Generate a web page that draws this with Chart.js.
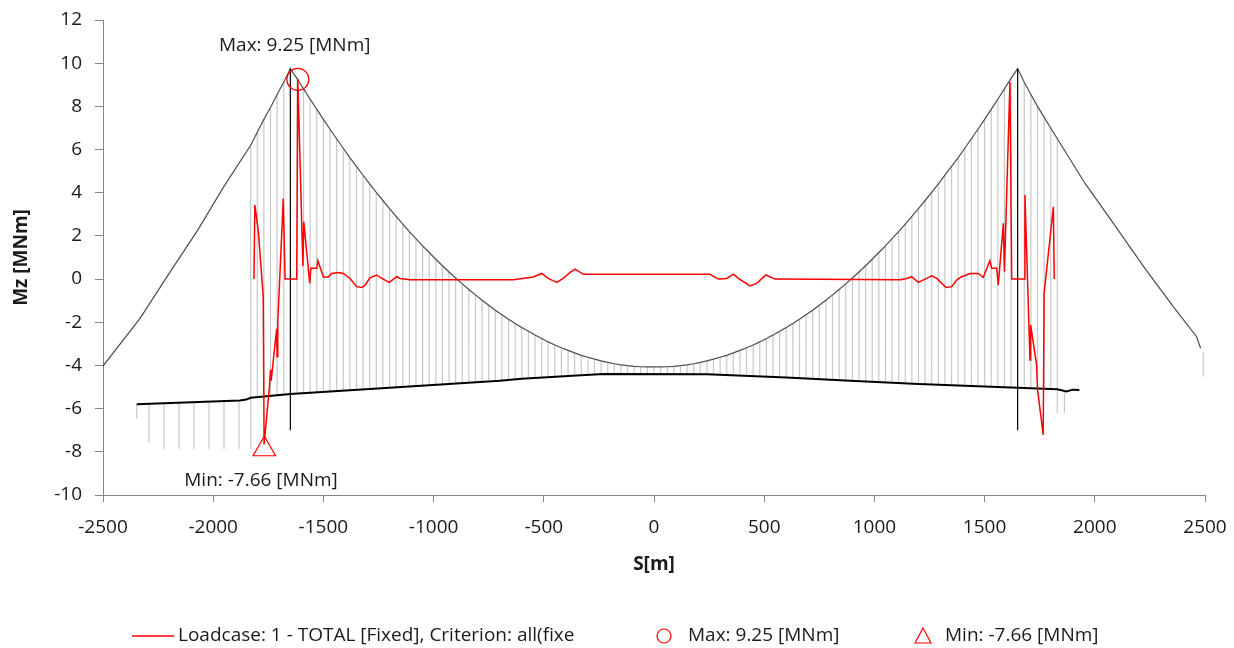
<!DOCTYPE html>
<html>
<head>
<meta charset="utf-8">
<title>Mz [MNm]</title>
<script src="https://cdn.jsdelivr.net/npm/chart.js@4.4.0/dist/chart.umd.min.js"></script>
<style>
  html, body { margin: 0; padding: 0; background: #fff; }
  #wrap { width: 1234px; height: 648px; position: relative; }
</style>
</head>
<body>
<div id="wrap"><canvas id="chart"></canvas></div>
<script>
// Main span hanger stations [m], cable and deck elevation at each one
const spanS = [
  -1620, -1590, -1560, -1530, -1500, -1470, -1440, -1410, -1380, -1350,
  -1320, -1290, -1260, -1230, -1200, -1170, -1140, -1110, -1080, -1050,
  -1020, -990, -960, -930, -900, -870, -840, -810, -780, -750,
  -720, -690, -660, -630, -600, -570, -540, -510, -480, -450,
  -420, -390, -360, -330, -300, -270, -240, -210, -180, -150,
  -120, -90, -60, -30, 0, 30, 60, 90, 120, 150,
  180, 210, 240, 270, 300, 330, 360, 390, 420, 450,
  480, 510, 540, 570, 600, 630, 660, 690, 720, 750,
  780, 810, 840, 870, 900, 930, 960, 990, 1020, 1050,
  1080, 1110, 1140, 1170, 1200, 1230, 1260, 1290, 1320, 1350,
  1380, 1410, 1440, 1470, 1500, 1530, 1560, 1590, 1620,
];
const spanCable = [
  9.30, 8.81, 8.33, 7.86, 7.40, 6.94, 6.50, 6.06, 5.63, 5.22,
  4.81, 4.41, 4.02, 3.64, 3.26, 2.90, 2.55, 2.20, 1.87, 1.54,
  1.23, 0.92, 0.62, 0.33, 0.05, -0.22, -0.48, -0.73, -0.98, -1.21,
  -1.44, -1.65, -1.86, -2.06, -2.24, -2.42, -2.59, -2.75, -2.91, -3.05,
  -3.18, -3.30, -3.42, -3.53, -3.62, -3.71, -3.79, -3.86, -3.92, -3.97,
  -4.01, -4.04, -4.06, -4.07, -4.07, -4.07, -4.06, -4.04, -4.01, -3.97,
  -3.92, -3.86, -3.79, -3.71, -3.62, -3.53, -3.42, -3.30, -3.18, -3.05,
  -2.91, -2.75, -2.59, -2.42, -2.24, -2.06, -1.86, -1.65, -1.44, -1.21,
  -0.98, -0.73, -0.48, -0.22, 0.05, 0.33, 0.62, 0.92, 1.23, 1.54,
  1.87, 2.20, 2.55, 2.90, 3.26, 3.64, 4.02, 4.41, 4.81, 5.22,
  5.63, 6.06, 6.50, 6.94, 7.40, 7.86, 8.33, 8.81, 9.30,
];
const spanDeck = [
  -5.30, -5.28, -5.26, -5.24, -5.22, -5.20, -5.18, -5.16, -5.15, -5.13,
  -5.11, -5.09, -5.07, -5.05, -5.03, -5.01, -4.99, -4.97, -4.95, -4.93,
  -4.91, -4.89, -4.87, -4.85, -4.83, -4.81, -4.79, -4.77, -4.75, -4.73,
  -4.72, -4.70, -4.68, -4.65, -4.62, -4.60, -4.58, -4.56, -4.54, -4.52,
  -4.50, -4.49, -4.47, -4.46, -4.44, -4.42, -4.41, -4.40, -4.40, -4.40,
  -4.40, -4.40, -4.40, -4.40, -4.40, -4.40, -4.40, -4.40, -4.40, -4.40,
  -4.40, -4.40, -4.41, -4.42, -4.43, -4.44, -4.46, -4.47, -4.48, -4.50,
  -4.51, -4.52, -4.54, -4.55, -4.56, -4.58, -4.59, -4.61, -4.62, -4.64,
  -4.65, -4.67, -4.68, -4.70, -4.71, -4.73, -4.74, -4.76, -4.78, -4.79,
  -4.80, -4.82, -4.83, -4.84, -4.86, -4.87, -4.88, -4.90, -4.91, -4.92,
  -4.93, -4.95, -4.96, -4.97, -4.98, -4.99, -5.00, -5.01, -5.02,
];

// Other hangers: under the left side span, beside the towers, right end post
const sideS = [
  -2347, -2291, -2223, -2155, -2087, -2019, -1951, -1883,
  -1830, -1800, -1770, -1740, -1710, -1680,
  1680, 1710, 1740, 1770, 1800, 1830, 1862, 2492,
];
const sideTop = [
  -5.80, -5.78, -5.75, -5.73, -5.70, -5.67, -5.65, -5.62,
  6.20, 6.80, 7.40, 7.95, 8.55, 9.12,
  9.12, 8.55, 8.00, 7.50, 7.00, 6.50, -5.15, -3.37,
];
const sideBottom = [
  -6.45, -7.56, -7.87, -7.87, -7.87, -7.87, -7.87, -7.87,
  -7.87, -5.49, -5.46, -5.43, -5.39, -5.35,
  -5.04, -5.05, -5.06, -5.08, -5.09, -6.20, -6.20, -4.52,
];

// Back stay cable
const backLeftS = [-2500, -2332, -2188, -2068, -1954, -1830, -1800, -1770, -1740, -1710, -1680];
const backLeftZ = [-4.03, -1.82, 0.45, 2.30, 4.25, 6.20, 6.80, 7.40, 7.95, 8.55, 9.12];
const backRightS = [1680, 1710, 1740, 1770, 1800, 1830, 1956, 2090, 2220, 2356, 2462, 2480];
const backRightZ = [9.12, 8.55, 8.00, 7.50, 7.00, 6.50, 4.43, 2.50, 0.60, -1.28, -2.67, -3.20];

// Towers
const towerS = [-1650, 1650];
const towerTop = [9.75, 9.75];
const towerBottom = [-7.0, -7.0];

// Deck girder
const deckS = [-2347, -1880, -1850, -1830, -1650, -1200, -700, -600, -370, -230, 240, 600, 890, 1200, 1650, 1830, 1872, 1900, 1930];
const deckZ = [-5.80, -5.62, -5.58, -5.50, -5.32, -5.03, -4.71, -4.62, -4.48, -4.40, -4.41, -4.56, -4.71, -4.86, -5.03, -5.10, -5.20, -5.12, -5.14];

// Mz result along the deck [MNm]
const momentS = [
  -1815, -1811, -1795, -1773, -1769, -1745, -1740, -1737, -1712, -1710,
  -1707, -1682, -1674, -1621, -1616, -1593, -1589, -1562, -1557, -1530,
  -1525, -1500, -1478, -1462, -1432, -1410, -1379, -1349, -1326, -1311,
  -1289, -1258, -1235, -1201, -1167, -1152, -1107, -638, -548, -510,
  -480, -441, -412, -381, -358, -321, 254, 292, 330, 360,
  383, 436, 466, 508, 549, 1120, 1147, 1169, 1199, 1230,
  1260, 1283, 1325, 1351, 1373, 1396, 1434, 1471, 1494, 1524,
  1532, 1555, 1562, 1585, 1590, 1615, 1623, 1680, 1683, 1706,
  1709, 1736, 1740, 1766, 1770, 1812, 1816,
];
const momentZ = [
  0.00, 3.43, 2.20, -0.82, -7.66, -5.00, -4.20, -4.70, -2.30, -3.60,
  -2.00, 3.73, 0.00, 0.00, 9.25, 0.60, 2.65, -0.20, 0.50, 0.50,
  0.85, 0.10, 0.10, 0.26, 0.31, 0.26, 0.03, -0.35, -0.39, -0.28,
  0.06, 0.19, 0.03, -0.15, 0.11, 0.03, -0.03, -0.03, 0.10, 0.26,
  0.03, -0.15, 0.03, 0.31, 0.46, 0.22, 0.22, 0.00, 0.03, 0.23,
  0.03, -0.32, -0.20, 0.19, 0.00, -0.03, 0.03, 0.11, -0.15, 0.00,
  0.15, 0.03, -0.39, -0.35, -0.05, 0.11, 0.26, 0.26, 0.08, 0.85,
  0.50, 0.50, -0.28, 2.58, 0.34, 9.13, 0.00, 0.00, 3.89, -3.75,
  -2.13, -3.98, -5.10, -7.22, -0.66, 3.35, 0.00,
];

// Extreme markers
const maxPoint = { x: -1616, y: 9.25 };
const minPoint = { x: -1768, y: -7.88 };

const seriesLabel = 'Loadcase: 1 - TOTAL [Fixed], Criterion: all(fixe';
const maxLabel = 'Max: 9.25 [MNm]';
const minLabel = 'Min: -7.66 [MNm]';

const FONT = '"Open Sans", "Noto Sans", sans-serif';
const TEXT = '#1a1a1a';
const AXIS = '#868686';
const RED = '#ff0000';

Chart.defaults.font.family = FONT;
Chart.defaults.color = TEXT;

function toPoints(xs, ys) {
  return xs.map((s, i) => ({ x: s, y: ys[i] }));
}

// vertical segments separated by gaps
function segments(xs, tops, bottoms) {
  const out = [];
  xs.forEach((s, i) => {
    out.push({ x: s, y: tops[i] }, { x: s, y: bottoms[i] }, { x: s, y: null });
  });
  return out;
}

const cablePoints = [
  ...toPoints(backLeftS, backLeftZ),
  { x: towerS[0], y: towerTop[0] },
  ...toPoints(spanS, spanCable),
  { x: towerS[1], y: towerTop[1] },
  ...toPoints(backRightS, backRightZ),
];
const hangerPoints = [
  ...segments(sideS, sideTop, sideBottom),
  ...segments(spanS, spanCable, spanDeck),
];

function lineSet(data, color, width) {
  return {
    data: data,
    borderColor: color,
    borderWidth: width,
    pointRadius: 0,
    fill: false,
    tension: 0,
    spanGaps: false,
  };
}

// annotation texts and the legend row
const overlay = {
  id: 'overlay',
  afterDraw(chart) {
    const { ctx, scales } = chart;
    const x = scales.x;
    const y = scales.y;
    ctx.save();
    ctx.font = '19px ' + FONT;
    ctx.fillStyle = TEXT;
    ctx.textAlign = 'center';
    ctx.textBaseline = 'middle';
    ctx.fillText(maxLabel, x.getPixelForValue(-1630), y.getPixelForValue(10.8));
    ctx.fillText(minLabel, x.getPixelForValue(-1783), y.getPixelForValue(-9.31));

    const ly = 636;
    ctx.textAlign = 'left';
    ctx.strokeStyle = RED;
    ctx.lineWidth = 1.5;
    ctx.beginPath();
    ctx.moveTo(132, ly);
    ctx.lineTo(174, ly);
    ctx.stroke();
    ctx.fillText(seriesLabel, 178, ly);

    ctx.lineWidth = 1.2;
    ctx.beginPath();
    ctx.arc(664, ly, 7, 0, Math.PI * 2);
    ctx.stroke();
    ctx.fillText(maxLabel, 688, ly);

    ctx.beginPath();
    ctx.moveTo(923, ly - 8);
    ctx.lineTo(931, ly + 7);
    ctx.lineTo(915, ly + 7);
    ctx.closePath();
    ctx.stroke();
    ctx.fillText(minLabel, 945, ly);
    ctx.restore();
  },
};

const ctx = document.getElementById('chart').getContext('2d');

new Chart(ctx, {
  type: 'line',
  data: {
    datasets: [
      {
        data: [maxPoint],
        showLine: false,
        pointStyle: 'circle',
        pointRadius: 11,
        pointBorderColor: RED,
        pointBackgroundColor: 'rgba(0,0,0,0)',
        pointBorderWidth: 1.2,
      },
      {
        data: [minPoint],
        showLine: false,
        pointStyle: 'triangle',
        pointRadius: 13,
        pointBorderColor: RED,
        pointBackgroundColor: 'rgba(0,0,0,0)',
        pointBorderWidth: 1.2,
      },
      Object.assign(lineSet(toPoints(momentS, momentZ), RED, 1.5), { label: seriesLabel }),
      lineSet(segments(towerS, towerTop, towerBottom), '#000000', 1.2),
      lineSet(toPoints(deckS, deckZ), '#000000', 2),
      lineSet(cablePoints, '#4d4d4d', 1.2),
      lineSet(hangerPoints, '#c8c8c8', 1.2),
    ],
  },
  options: {
    responsive: true,
    maintainAspectRatio: false,
    animation: false,
    events: [],
    layout: { padding: { left: 0, right: 29, top: 20, bottom: 0 } },
    plugins: {
      legend: { display: false },
      tooltip: { enabled: false },
    },
    scales: {
      x: {
        type: 'linear',
        min: -2500,
        max: 2500,
        ticks: {
          stepSize: 500,
          padding: 14,
          maxRotation: 0,
          color: TEXT,
          font: { size: 19 },
          callback: (v) => String(v),
        },
        grid: { drawOnChartArea: false, drawTicks: true, tickLength: 7, color: AXIS },
        border: { display: true, color: AXIS, width: 1 },
        title: {
          display: true,
          text: 'S[m]',
          color: TEXT,
          font: { size: 19, weight: 'bold' },
          padding: { top: 0, bottom: 72 },
        },
        afterFit(scale) {
          scale.height = 153;
          scale.paddingLeft = 0;
          scale.paddingRight = 0;
        },
      },
      y: {
        min: -10,
        max: 12,
        ticks: { stepSize: 2, padding: 13, color: TEXT, font: { size: 19 } },
        grid: { drawOnChartArea: false, drawTicks: true, tickLength: 8, color: AXIS },
        border: { display: true, color: AXIS, width: 1 },
        title: {
          display: true,
          text: 'Mz [MNm]',
          color: TEXT,
          font: { size: 19, weight: 'bold' },
          padding: { top: 10, bottom: 0 },
        },
        afterFit(scale) {
          scale.width = 103;
          scale.paddingTop = 0;
          scale.paddingBottom = 0;
        },
      },
    },
  },
  plugins: [overlay],
});
</script>
</body>
</html>
